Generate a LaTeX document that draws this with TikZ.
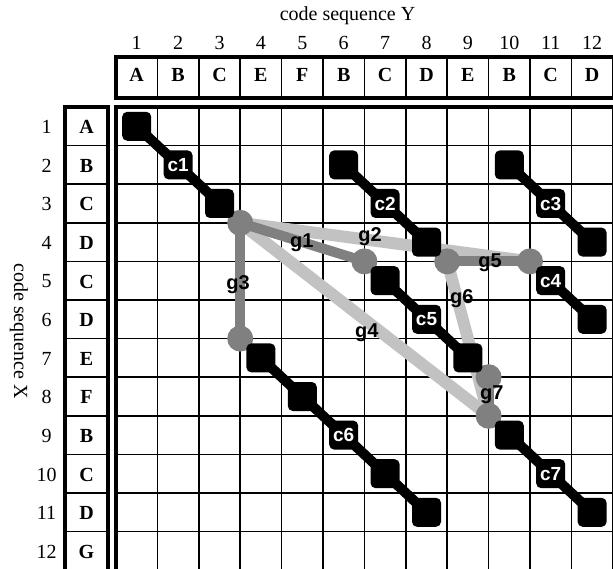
\documentclass[tikz,border=0pt]{standalone}
\usepackage{fontspec}
\setmainfont{Liberation Serif}
\newfontfamily\lsans{Liberation Sans}
\begin{document}
\begin{tikzpicture}[x=1pt,y=-1pt,
  thingrid/.style={line width=1.6pt},
  thickframe/.style={line width=3.5pt},
  cellsq/.style={fill=black, rounded corners=5pt, minimum width=29pt, minimum height=29pt, inner sep=0pt},
  clabel/.style={cellsq, text=white, font=\lsans\bfseries\fontsize{19}{19}\selectfont},
  chainline/.style={line width=10pt, shorten <=-5pt, shorten >=-5pt},
  glabel/.style={font=\lsans\bfseries\fontsize{20}{20}\selectfont, inner sep=0pt},
  lightgap/.style={line width=12pt, draw=black!24, line cap=round},
  darkgap/.style={line width=10pt, draw=black!50, line cap=round},
  gapdot/.style={circle, fill=black!50, minimum size=26pt, inner sep=0pt},
  numlab/.style={font=\fontsize{20}{20}\selectfont, inner sep=0pt},
  letlab/.style={font=\bfseries\fontsize{20}{20}\selectfont, inner sep=0pt},
]
\useasboundingbox (0,0) rectangle (613,569);
\begin{scope}
\clip (0,0) rectangle (613,569);
% titles
\node[numlab, anchor=base] (ttlY) at (347.5,20.5) {code sequence Y};
\node[numlab, rotate=-90] (ttlX) at (19,331) {code sequence X};
% column numbers and header letters
\foreach \c/\l in {1/A,2/B,3/C,4/E,5/F,6/B,7/C,8/D,9/E,10/B,11/C,12/D}{
  \node[numlab, anchor=base] (cn\c) at ({116+41.4*(\c-0.5)},49.3) {\c};
  \node[letlab, anchor=base] (hy\c) at ({116+41.4*(\c-0.5)},82) {\l};
}
% row numbers and row letters
\foreach \r/\l in {1/A,2/B,3/C,4/D,5/C,6/D,7/E,8/F,9/B,10/C,11/D,12/G}{
  \node[numlab] (rn\r) at (46.5,{107+38.6*(\r-0.5)+0.8}) {\r};
  \node[letlab] (hx\r) at (86.5,{107+38.6*(\r-0.5)+0.8}) {\l};
}
% thin grid lines
\foreach \k in {1,...,12}{
  \draw[thingrid] ({116+41.4*\k},57) -- ({116+41.4*\k},98);
  \draw[thingrid] ({116+41.4*\k},107) -- ({116+41.4*\k},575);
  \draw[thingrid] (116,{107+38.6*\k}) -- (620,{107+38.6*\k});
  \draw[thingrid] (65,{107+38.6*\k}) -- (108,{107+38.6*\k});
}
% thick frames
\draw[thickframe] (625,57) -- (116,57) -- (116,98) -- (625,98);
\draw[thickframe] (625,107) -- (116,107) -- (116,580);
\draw[thickframe] (65,107) rectangle (108,580);
% gap end points (cell corners)
\coordinate (hub) at (240.2,222.8);
\coordinate (g1e) at (364.4,261.4);
\coordinate (g3e) at (240.2,338.6);
\coordinate (g4e) at (488.6,415.8);
\coordinate (g2e) at (530.0,261.4);
\coordinate (g5s) at (447.2,261.4);
\coordinate (g7s) at (488.6,377.2);
% light gaps
\draw[lightgap] (hub) -- (g2e);
\draw[lightgap] (hub) -- (g4e);
\draw[lightgap] (g5s) -- (g4e);
% dark gaps
\draw[darkgap] (hub) -- (g1e);
\draw[darkgap] (hub) -- (g3e);
\draw[darkgap] (g5s) -- (g2e);
\draw[darkgap] (g7s) -- (g4e);
\foreach \p in {hub,g1e,g3e,g4e,g2e,g5s,g7s}
  \node[gapdot] (dot-\p) at (\p) {};
% matching cells
\foreach \r/\c in {1/1,3/3,2/6,4/8,2/10,4/12,6/12,5/7,7/9,7/4,8/5,10/7,11/8,9/10,11/12}
  \node[cellsq] (s\r-\c) at ({116+41.4*(\c-0.5)},{107+38.6*(\r-0.5)}) {};
\foreach \r/\c/\t in {2/2/c1,3/7/c2,3/11/c3,5/11/c4,6/8/c5,9/6/c6,10/11/c7}
  \node[clabel] (s\r-\c) at ({116+41.4*(\c-0.5)},{107+38.6*(\r-0.5)}) {\t};
\foreach \a/\b in {1-1/2-2,2-2/3-3,2-6/3-7,3-7/4-8,2-10/3-11,3-11/4-12,5-11/6-12,5-7/6-8,6-8/7-9,7-4/8-5,8-5/9-6,9-6/10-7,10-7/11-8,9-10/10-11,10-11/11-12}
  \draw[chainline] (s\a) -- (s\b);
% gap labels
\node[glabel] (lg1) at (301.7,243) {g1};
\node[glabel] (lg2) at (370,237) {g2};
\node[glabel] (lg3) at (238,285) {g3};
\node[glabel] (lg4) at (366.7,333) {g4};
\node[glabel] (lg5) at (490,263) {g5};
\node[glabel] (lg6) at (461.7,299) {g6};
\node[glabel] (lg7) at (491.7,395) {g7};
\end{scope}
\end{tikzpicture}
\end{document}
